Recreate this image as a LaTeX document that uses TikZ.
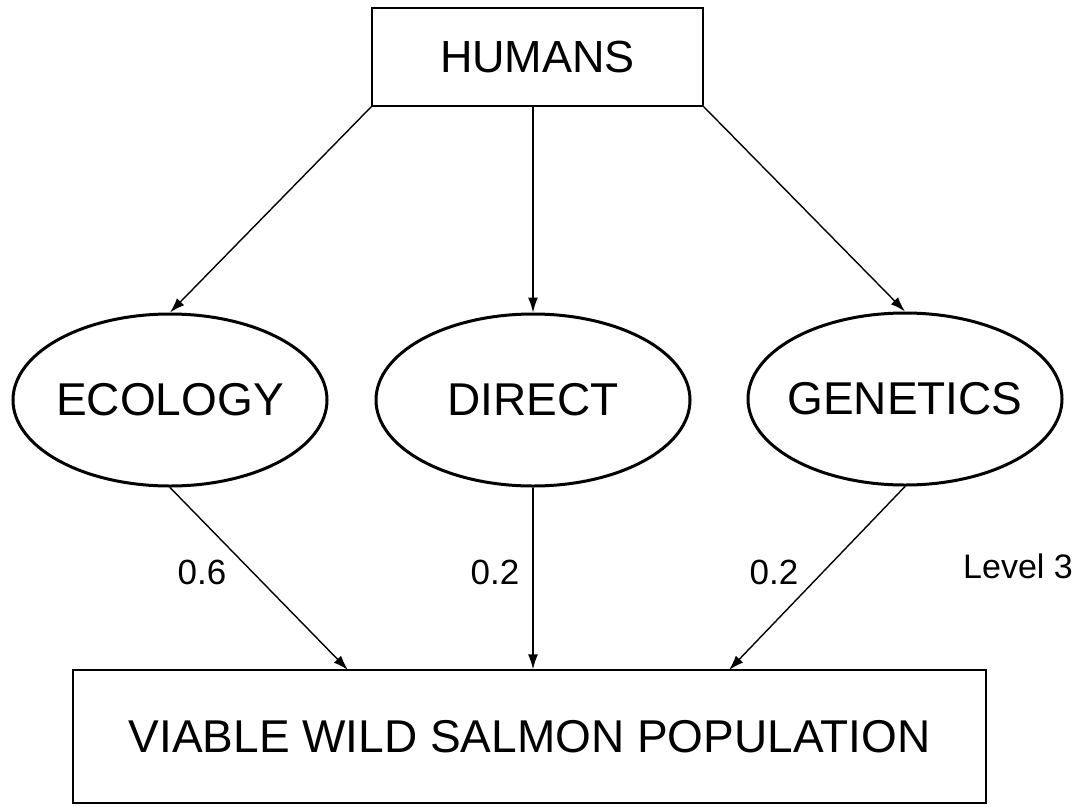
\documentclass[tikz,border=0pt]{standalone}
\usepackage{fontspec}
\setmainfont{Liberation Sans}
\usepackage{tikz}
\usetikzlibrary{calc,positioning,shapes,arrows.meta}

\begin{document}
\begin{tikzpicture}[x=1pt,y=-1pt,
		box/.style={shape=rectangle,draw,line width=1.4pt,inner sep=0pt,font=\fontsize{46}{55}\selectfont},
		oval/.style={shape=ellipse,draw,line width=3pt,inner xsep=-30pt,inner ysep=0pt,
			minimum width=314pt,minimum height=172pt,font=\fontsize{46}{55}\selectfont},
		weight/.style={inner sep=0pt,font=\fontsize{35}{42}\selectfont},
		arr/.style={-{Latex[length=15pt,width=10pt]},line width=1.4pt}]
		\useasboundingbox (0,0) rectangle (1083,806);
		\begin{scope}
			\node(humans) [box,minimum width=331pt,minimum height=98pt,font=\fontsize{45}{54}\selectfont] at (537.5,57) {HUMANS};
			\node(ecology) [oval] at (170,400) {ECOLOGY};
			\node(direct) [oval] at (533,400) {DIRECT};
			\node(genetics) [oval] at (905,399) {GENETICS};
			\node(viable) [box,minimum width=913pt,minimum height=133pt] at (529.5,736.5) {VIABLE WILD SALMON POPULATION};
			\coordinate(in1) at (348,670);
			\coordinate(in3) at (729,670);
			\path[arr]
				(humans.south west) edge (ecology.north)
				(direct.north |- humans.south) edge (direct.north)
				(humans.south east) edge (genetics.north)
				(ecology.south)     edge (in1)
				(direct.south)      edge (direct.south |- viable.north)
				(genetics.south)    edge (in3);
			\node(w1) [weight] at (202,572) {0.6};
			\node(w2) [weight] at (495,572) {0.2};
			\node(w3) [weight] at (774,572) {0.2};
			\node(level) [inner sep=0pt,font=\fontsize{34}{41}\selectfont] at (1018,566) {Level 3};
		\end{scope}
	\end{tikzpicture}
\end{document}
